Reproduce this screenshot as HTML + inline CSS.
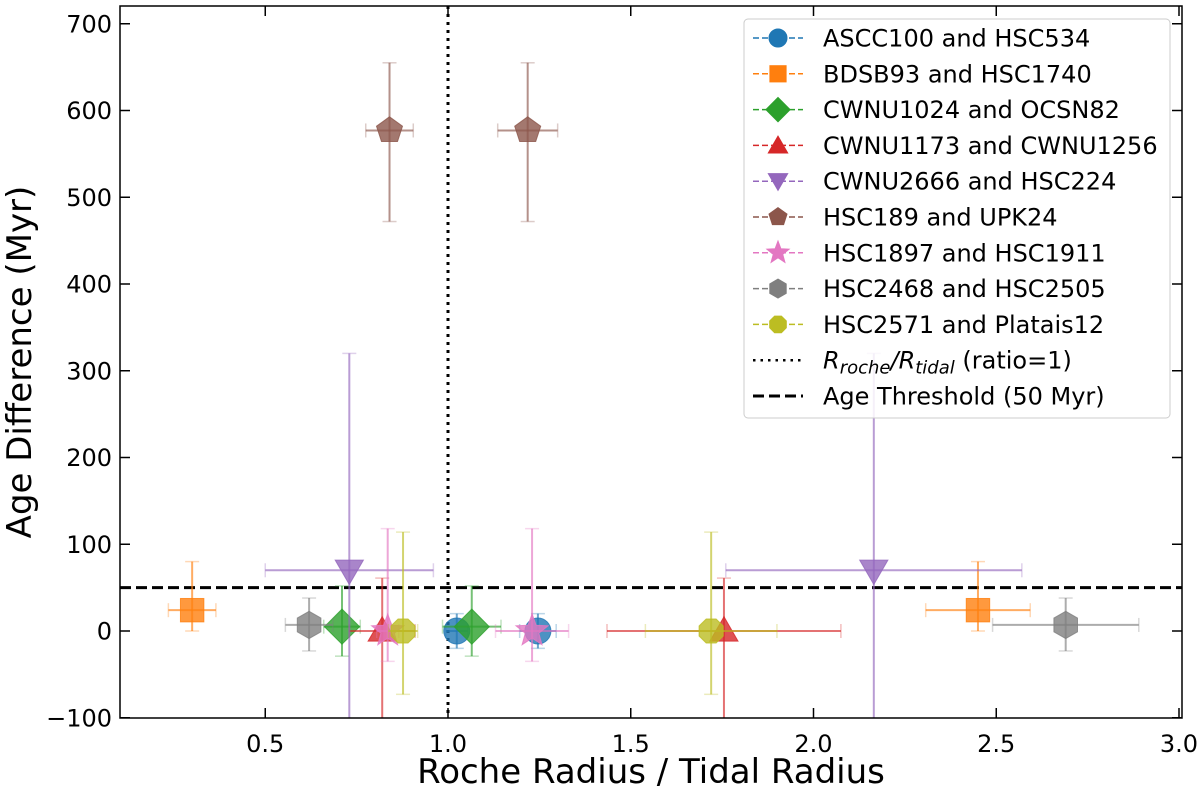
<!DOCTYPE html>
<html><head><meta charset="utf-8"><style>
body{margin:0;background:#fff;}
svg{display:block;font-family:"DejaVu Sans","Liberation Sans",sans-serif;}
</style></head><body>
<svg id="chart" width="1200" height="788" viewBox="0 0 1200 788" xmlns="http://www.w3.org/2000/svg">
<defs><clipPath id="plotclip"><rect x="120" y="6" width="1062" height="712"/></clipPath></defs>
<g id="plot" clip-path="url(#plotclip)"></g>
<g id="axes"></g>
<g id="legend"></g>
</svg>
<script>
const names = ["ASCC100 and HSC534","BDSB93 and HSC1740","CWNU1024 and OCSN82","CWNU1173 and CWNU1256","CWNU2666 and HSC224","HSC189 and UPK24","HSC1897 and HSC1911","HSC2468 and HSC2505","HSC2571 and Platais12"];
const colors = ["#1f77b4","#ff7f0e","#2ca02c","#d62728","#9467bd","#8c564b","#e377c2","#7f7f7f","#bcbd22"];
const markers = ["circle","square","diamond","tri-up","tri-down","pentagon","star","hexagon","octagon"];
const xLeft = [1.024,0.30,0.71,0.82,0.73,0.84,0.835,0.62,0.877];
const xLeftErr = [0.03,0.065,0.05,0.09,0.23,0.065,0.03,0.065,0.04];
const xRight = [1.246,2.45,1.065,1.755,2.165,1.218,1.23,2.69,1.72];
const xRightErr = [0.05,0.143,0.08,0.32,0.405,0.082,0.1,0.2,0.18];
const ageDiff = [0,24,5,0,70,577,0,7,0];
const ageErrLo = [20,24,34,130,250,105,35,30,73];
const ageErrHi = [20,56,47,61,250,78,118,31,114];
const xTicks = [0.5,1.0,1.5,2.0,2.5,3.0];
const yTicks = [-100,0,100,200,300,400,500,600,700];
const ratioLine = 1.0;
const ageThreshold = 50;

const NS="http://www.w3.org/2000/svg";
const X0=120,X1=1182,Y0=6,Y1=718;
function xs(v){return 448+(v-1)*365.5;}
function ys(v){return 631-v*0.8675;}
function mk(tag,attrs,parent){const e=document.createElementNS(NS,tag);for(const k in attrs)e.setAttribute(k,attrs[k]);parent.appendChild(e);return e;}
const plot=document.getElementById('plot'),axes=document.getElementById('axes'),legend=document.getElementById('legend');

function poly(cx,cy,n,r,rot){let p=[];for(let i=0;i<n;i++){const a=rot+i*2*Math.PI/n;p.push((cx+r*Math.cos(a)).toFixed(1)+","+(cy+r*Math.sin(a)).toFixed(1));}return p.join(" ");}
function starPts(cx,cy,r){let p=[];for(let i=0;i<10;i++){const rr=i%2?r*0.42:r;const a=-Math.PI/2+i*Math.PI/5;p.push((cx+rr*Math.cos(a)).toFixed(1)+","+(cy+rr*Math.sin(a)).toFixed(1));}return p.join(" ");}
function drawMarker(type,cx,cy,color,s,parent,op){
  const a={fill:color,'fill-opacity':op,stroke:color,'stroke-opacity':op,'stroke-width':1};
  let e;
  if(type==="circle"){a.cx=cx;a.cy=cy;a.r=s;e=mk('circle',a,parent);}
  else if(type==="square"){a.x=cx-s*0.9;a.y=cy-s*0.9;a.width=s*1.8;a.height=s*1.8;e=mk('rect',a,parent);}
  else{
    let pts;
    if(type==="diamond")pts=poly(cx,cy,4,s*1.35,0);
    else if(type==="tri-up")pts=poly(cx,cy+2,3,s*1.25,-Math.PI/2);
    else if(type==="tri-down")pts=poly(cx,cy-2,3,s*1.25,Math.PI/2);
    else if(type==="pentagon")pts=poly(cx,cy,5,s*1.05,-Math.PI/2);
    else if(type==="star")pts=starPts(cx,cy,s*1.3);
    else if(type==="hexagon")pts=poly(cx,cy,6,s*1.05,-Math.PI/2);
    else pts=poly(cx,cy,8,s*1.0,Math.PI/8);
    a.points=pts;e=mk('polygon',a,parent);
  }
  return e;
}
function errbar(x,y,xe,ylo,yhi,color,parent){
  const g=mk('g',{stroke:color,'stroke-width':2,'stroke-opacity':0.65},parent);
  mk('line',{x1:xs(x-xe),y1:ys(y),x2:xs(x+xe),y2:ys(y)},g);
  mk('line',{x1:xs(x),y1:ys(y-ylo),x2:xs(x),y2:ys(y+yhi)},g);
  const c=mk('g',{'stroke-opacity':0.3,'stroke-width':1.5},g);
  mk('line',{x1:xs(x-xe),y1:ys(y)-7,x2:xs(x-xe),y2:ys(y)+7},c);
  mk('line',{x1:xs(x+xe),y1:ys(y)-7,x2:xs(x+xe),y2:ys(y)+7},c);
  mk('line',{x1:xs(x)-7,y1:ys(y-ylo),x2:xs(x)+7,y2:ys(y-ylo)},c);
  mk('line',{x1:xs(x)-7,y1:ys(y+yhi),x2:xs(x)+7,y2:ys(y+yhi)},c);
}
const vl=mk('line',{x1:xs(ratioLine),y1:Y0,x2:xs(ratioLine),y2:Y1,stroke:'#000','stroke-width':3,'stroke-dasharray':'3,5'},plot);


const hl=mk('line',{x1:X0,y1:ys(ageThreshold),x2:X1,y2:ys(ageThreshold),stroke:'#000','stroke-width':3,'stroke-dasharray':'11,5'},plot);


for(let i=0;i<names.length;i++){
  const g=mk('g',{},plot);
  
  
  errbar(xLeft[i],ageDiff[i],xLeftErr[i],ageErrLo[i],ageErrHi[i],colors[i],g);
  errbar(xRight[i],ageDiff[i],xRightErr[i],ageErrLo[i],ageErrHi[i],colors[i],g);
  const m1=drawMarker(markers[i],xs(xLeft[i]),ys(ageDiff[i]),colors[i],13,g,0.8);
  
  
  const m2=drawMarker(markers[i],xs(xRight[i]),ys(ageDiff[i]),colors[i],13,g,0.8);
  
  
}
const fr=mk('rect',{x:X0,y:Y0,width:X1-X0,height:Y1-Y0,fill:'none',stroke:'#000','stroke-width':1.5},axes);


for(const t of xTicks){
  mk('line',{x1:xs(t),y1:Y1,x2:xs(t),y2:Y1-10,stroke:'#000','stroke-width':1.5},axes);
  mk('line',{x1:xs(t),y1:Y0,x2:xs(t),y2:Y0+10,stroke:'#000','stroke-width':1.5},axes);
  const tx=mk('text',{x:xs(t),y:752,'text-anchor':'middle','font-size':24,fill:'#000'},axes);
  tx.textContent=t.toFixed(1);
  
  
}
for(const t of yTicks){
  mk('line',{x1:X0,y1:ys(t),x2:X0+10,y2:ys(t),stroke:'#000','stroke-width':1.5},axes);
  mk('line',{x1:X1,y1:ys(t),x2:X1-10,y2:ys(t),stroke:'#000','stroke-width':1.5},axes);
  const tx=mk('text',{x:112,y:ys(t)+8.5,'text-anchor':'end','font-size':24,fill:'#000'},axes);
  tx.textContent=t<0?"\u2212"+Math.abs(t):String(t);
  
  
}
const xt=mk('text',{x:651,y:783,'text-anchor':'middle','font-size':34,fill:'#000'},axes);
xt.textContent="Roche Radius / Tidal Radius";


const yt=mk('text',{x:0,y:0,'text-anchor':'middle','font-size':34,fill:'#000',transform:'translate(31,362) rotate(-90)'},axes);
yt.textContent="Age Difference (Myr)";


const lb=mk('rect',{x:744,y:19,width:426,height:399,rx:4,fill:'#fff','fill-opacity':0.85,stroke:'#ccc','stroke-width':1},legend);


for(let i=0;i<names.length+2;i++){
  const cy=38+i*35.8;
  const g=mk('g',{},legend);
  
  
  if(i<names.length){
    mk('line',{x1:753,y1:cy,x2:803,y2:cy,stroke:colors[i],'stroke-width':1.5,'stroke-dasharray':'6,3'},g);
    drawMarker(markers[i],778,cy,colors[i],9,g,1);
    const t=mk('text',{x:823,y:cy+8.5,'font-size':24,fill:'#000'},g);
    t.textContent=names[i];
  } else if(i===names.length){
    mk('line',{x1:753,y1:cy,x2:803,y2:cy,stroke:'#000','stroke-width':2.5,'stroke-dasharray':'2.5,5'},g);
    const t=mk('text',{x:823,y:cy+8.5,'font-size':24,fill:'#000'},g);
    t.innerHTML='<tspan font-style="italic">R</tspan><tspan font-style="italic" font-size="18" dy="5">roche</tspan><tspan font-style="italic" dy="-5">/R</tspan><tspan font-style="italic" font-size="18" dy="5">tidal</tspan><tspan dy="-5"> (ratio=1)</tspan>';
  } else {
    mk('line',{x1:753,y1:cy,x2:803,y2:cy,stroke:'#000','stroke-width':3,'stroke-dasharray':'11,5'},g);
    const t=mk('text',{x:823,y:cy+8.5,'font-size':24,fill:'#000'},g);
    t.textContent="Age Threshold (50 Myr)";
  }
}
</script>
</body></html>
